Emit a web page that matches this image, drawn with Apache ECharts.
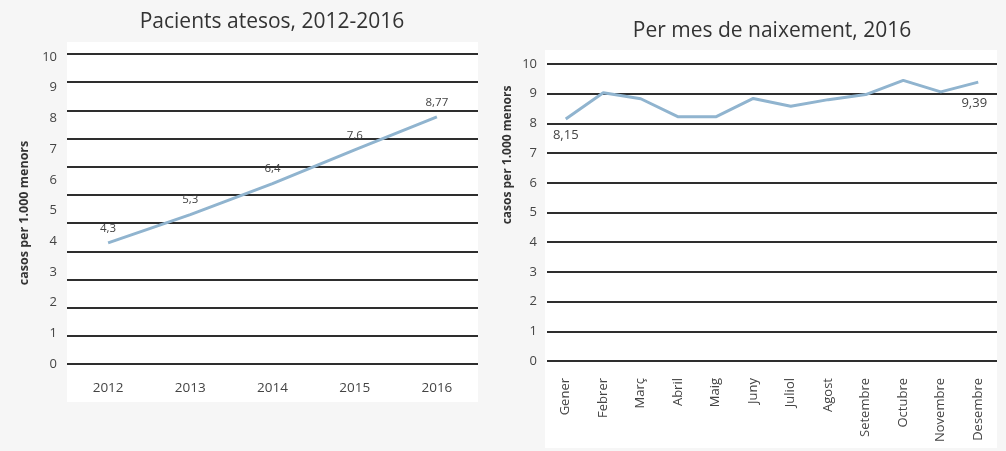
<!DOCTYPE html>
<html>
<head>
<meta charset="utf-8">
<script src="https://cdn.jsdelivr.net/npm/echarts@6/dist/echarts.min.js"></script>
<style>
html,body{margin:0;padding:0;background:#f6f6f6;}
#chart{width:1006px;height:451px;}
</style>
</head>
<body>
<div id="chart"></div>
<script>
// ---- data ----
var years = ['2012', '2013', '2014', '2015', '2016'];
var yearValues = [4.3, 5.3, 6.4, 7.6, 8.77];
var months = ['Gener', 'Febrer', 'Març', 'Abril', 'Maig', 'Juny', 'Juliol', 'Agost', 'Setembre', 'Octubre', 'Novembre', 'Desembre'];
var monthValues = [8.15, 9.03, 8.83, 8.22, 8.22, 8.84, 8.58, 8.80, 8.97, 9.45, 9.06, 9.39];
var yTickLabels = ['0', '1', '2', '3', '4', '5', '6', '7', '8', '9', '10'];
var titleLeft = 'Pacients atesos, 2012-2016';
var titleRight = 'Per mes de naixement, 2016';
var yName = 'casos per 1.000 menors';

var FONT = '"Open Sans", "Noto Sans", sans-serif';
var LINE = '#90b4cf';
var GRID = '#2e2e2e';
var TXT = '#444';

function comma(v) { return String(v).replace('.', ','); }

var monthData = monthValues.map(function (v, i) {
  var first = i === 0, last = i === monthValues.length - 1;
  var item = { value: v, label: { show: first || last } };
  if (last) { item.label.distance = 14; item.label.offset = [-4, 0]; }
  return item;
});

var chart = echarts.init(document.getElementById('chart'));
chart.setOption({
  backgroundColor: '#f6f6f6',
  animation: false,
  textStyle: { fontFamily: FONT },
  title: [
    { text: titleLeft, left: 267, top: 7, textAlign: 'center',
      textStyle: { fontFamily: FONT, fontSize: 21, fontWeight: 'normal', color: '#333' } },
    { text: titleRight, left: 767, top: 16, textAlign: 'center',
      textStyle: { fontFamily: FONT, fontSize: 21, fontWeight: 'normal', color: '#333' } }
  ],
  graphic: [
    { type: 'rect', shape: { x: 67, y: 42, width: 411, height: 360 }, style: { fill: '#ffffff' }, z: -10, silent: true },
    { type: 'rect', shape: { x: 545, y: 50, width: 452, height: 398 }, style: { fill: '#ffffff' }, z: -10, silent: true },
    { type: 'text', x: 24, y: 213, rotation: Math.PI / 2, silent: true,
      style: { text: yName, fontFamily: FONT, fontSize: 12.5, fontWeight: 'bold', fill: '#333',
        textAlign: 'center', textVerticalAlign: 'middle' } },
    { type: 'text', x: 508, y: 155, rotation: Math.PI / 2, silent: true,
      style: { text: yName, fontFamily: FONT, fontSize: 12, fontWeight: 'bold', fill: '#333',
        textAlign: 'center', textVerticalAlign: 'middle' } }
  ],
  grid: [
    { left: 67, right: 528, top: 54, bottom: 87, containLabel: false },
    { left: 547, right: 9, top: 64, bottom: 90, containLabel: false }
  ],
  xAxis: [
    { type: 'category', gridIndex: 0, data: years, boundaryGap: true,
      axisLine: { show: false }, axisTick: { show: false },
      axisLabel: { color: '#444', fontSize: 13.5, margin: 17, fontFamily: FONT } },
    { type: 'category', gridIndex: 1, data: months, boundaryGap: true,
      axisLine: { show: false }, axisTick: { show: false },
      axisLabel: { color: '#444', fontSize: 13, margin: 17, rotate: 90, interval: 0, fontFamily: FONT } }
  ],
  yAxis: [
    { type: 'value', gridIndex: 0, min: 0, max: 11, interval: 1,
      axisLine: { show: false }, axisTick: { show: false }, axisLabel: { show: false },
      splitLine: { show: true, lineStyle: { color: GRID, width: 2 } } },
    { type: 'value', gridIndex: 0, position: 'left', min: 0, max: 10.1, interval: 1,
      axisLine: { show: false }, axisTick: { show: false },
      splitLine: { show: false },
      axisLabel: { color: TXT, fontSize: 13, margin: 10, fontFamily: FONT,
        formatter: function (v) { return Number.isInteger(v) ? yTickLabels[v] : ''; } } },
    { type: 'value', gridIndex: 1, min: 0, max: 10, interval: 1,
      axisLine: { show: false }, axisTick: { show: false },
      splitLine: { show: true, lineStyle: { color: GRID, width: 2 } },
      axisLabel: { color: TXT, fontSize: 13, margin: 10, fontFamily: FONT,
        formatter: function (v) { return yTickLabels[v]; } } }
  ],
  series: [
    { type: 'line', xAxisIndex: 0, yAxisIndex: 0, data: yearValues,
      showSymbol: true, symbol: 'circle', symbolSize: 1,
      itemStyle: { color: 'rgba(0,0,0,0)' },
      lineStyle: { color: LINE, width: 3 },
      label: { show: true, position: 'top', distance: 8, color: '#444', fontSize: 11.5, fontFamily: FONT,
        formatter: function (p) { return comma(p.value); } },
      z: 5 },
    { type: 'line', xAxisIndex: 1, yAxisIndex: 2, data: monthData,
      showSymbol: true, symbol: 'circle', symbolSize: 1,
      itemStyle: { color: 'rgba(0,0,0,0)' },
      lineStyle: { color: LINE, width: 3 },
      label: { position: 'bottom', distance: 9, color: '#444', fontSize: 13, fontFamily: FONT,
        formatter: function (p) { return comma(p.value); } },
      z: 5 }
  ]
});
</script>
</body>
</html>
